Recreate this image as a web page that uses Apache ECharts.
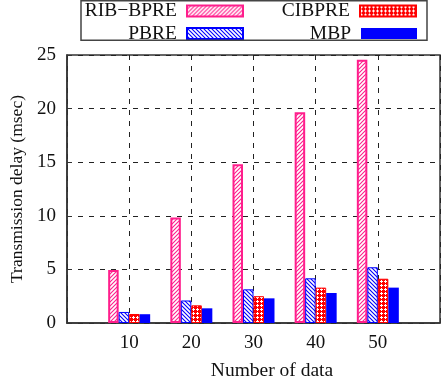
<!DOCTYPE html>
<html>
<head>
<meta charset="utf-8">
<script src="https://cdn.jsdelivr.net/npm/echarts@6/dist/echarts.min.js"></script>
<style>
html,body{margin:0;padding:0;background:#fff;}
#main{width:443px;height:392px;}
</style>
</head>
<body>
<div id="main"></div>
<script>
// data
var xValues = [10, 20, 30, 40, 50];
var seriesNames = ['RIB\u2212BPRE', 'PBRE', 'CIBPRE', 'MBP'];
var ribBpre = [4.95, 9.85, 14.8, 19.65, 24.55];
var pbre = [1.03, 2.1, 3.14, 4.17, 5.2];
var cibpre = [0.84, 1.65, 2.5, 3.3, 4.13];
var mbp = [0.82, 1.37, 2.3, 2.8, 3.3];

var FONT = '"Liberation Serif", "DejaVu Serif", serif';
var PINK = '#ff1e8c';
var BLUE = '#0000ff';
var RED = '#ff0000';

//斜线图案
function hatch(color, size, lw, back) {
	var c = document.createElement('canvas');
	c.width = size; c.height = size;
	var g = c.getContext('2d');
	g.fillStyle = '#fff';
	g.fillRect(0, 0, size, size);
	g.strokeStyle = color;
	g.lineWidth = lw;
	g.beginPath();
	if (!back) {
		g.moveTo(-1, size + 1); g.lineTo(size + 1, -1);
		g.moveTo(-1, 1); g.lineTo(1, -1);
		g.moveTo(size - 1, size + 1); g.lineTo(size + 1, size - 1);
	} else {
		g.moveTo(-1, -1); g.lineTo(size + 1, size + 1);
		g.moveTo(size - 1, -1); g.lineTo(size + 1, 1);
		g.moveTo(-1, size - 1); g.lineTo(1, size + 1);
	}
	g.stroke();
	return {image: c, repeat: 'repeat'};
}

//网格图案
function checker(color) {
	var c = document.createElement('canvas');
	c.width = 4; c.height = 4;
	var g = c.getContext('2d');
	g.fillStyle = color;
	g.fillRect(0, 0, 4, 4);
	g.fillStyle = '#fff';
	g.fillRect(1, 0, 1, 3);
	g.fillRect(0, 1, 3, 1);
	return {image: c, repeat: 'repeat'};
}

function pairs(vals) {
	var out = [];
	for (var i = 0; i < xValues.length; i++) {
		out.push([xValues[i], vals[i]]);
	}
	return out;
}

var styles = [
	{color: hatch(PINK, 4, 1.1, false), borderColor: PINK, borderWidth: 2},
	{color: hatch(BLUE, 4, 1.1, true), borderColor: BLUE, borderWidth: 1},
	{color: checker(RED), borderColor: RED, borderWidth: 1},
	{color: BLUE, borderColor: BLUE, borderWidth: 0}
];
var allData = [ribBpre, pbre, cibpre, mbp];

var series = [];
for (var s = 0; s < 4; s++) {
	series.push({
		name: seriesNames[s],
		type: 'bar',
		data: pairs(allData[s]),
		barWidth: 10.5,
		barGap: '0%',
		itemStyle: styles[s],
		emphasis: {disabled: true}
	});
}

function legendAt(name, right, top) {
	return {
		data: [{name: name, icon: 'rect'}],
		right: right,
		top: top,
		align: 'right',
		padding: 0,
		itemWidth: 56,
		itemHeight: 11,
		selectedMode: false,
		textStyle: {fontFamily: FONT, fontSize: 19.5, color: '#111', lineHeight: 18, padding: [0, 5, 0, 0]}
	};
}

var myChart = echarts.init(document.getElementById('main'));
var option = {
	animation: false,
	backgroundColor: '#fff',
	grid: {left: 64, right: -4, top: 55, bottom: 69, show: true, borderColor: '#333', borderWidth: 1.5, backgroundColor: 'transparent'},
	legend: [
		legendAt(seriesNames[0], 199, 1),
		legendAt(seriesNames[1], 199, 23.5),
		legendAt(seriesNames[2], 26, 1),
		legendAt(seriesNames[3], 26, 23.5)
	],
	xAxis: {
		type: 'value', min: 0, max: 60, interval: 10,
		axisLine: {show: true, lineStyle: {color: '#333', width: 1.5}},
		axisTick: {show: true, inside: true, length: 5, lineStyle: {color: '#333'}},
		axisLabel: {fontFamily: FONT, fontSize: 19, color: '#111', margin: 11,
			formatter: function (v) { return (v > 0 && v < 60) ? String(v) : ''; }},
		splitLine: {show: true, lineStyle: {color: '#222', type: [5, 6], width: 1}}
	},
	yAxis: {
		type: 'value', min: 0, max: 25, interval: 5,
		axisLine: {show: true, lineStyle: {color: '#333', width: 1.5}},
		axisTick: {show: true, inside: true, length: 5, lineStyle: {color: '#333'}},
		axisLabel: {fontFamily: FONT, fontSize: 19, color: '#111', margin: 11},
		splitLine: {show: true, lineStyle: {color: '#222', type: [5, 6], width: 1}},
		name: 'Transmission delay (msec)',
		nameLocation: 'middle',
		nameGap: 41,
		nameTextStyle: {fontFamily: FONT, fontSize: 17.5, color: '#111'}
	},
	graphic: [
		{type: 'rect', shape: {x: 81, y: 0.75, width: 346, height: 39.5}, style: {fill: 'none', stroke: '#444', lineWidth: 1.5}, z: 100},
		{type: 'text', x: 272, y: 371, style: {text: 'Number of data', font: '19.5px ' + FONT, fill: '#111', align: 'center', verticalAlign: 'middle'}}
	],
	series: series
};
myChart.setOption(option);
</script>
</body>
</html>
